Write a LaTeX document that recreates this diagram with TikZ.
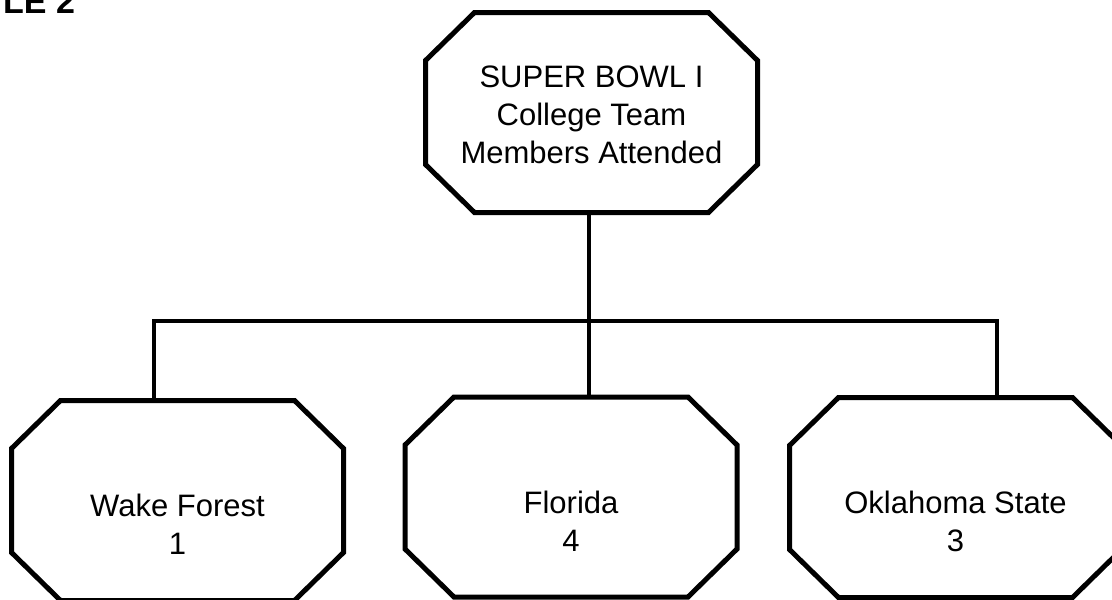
\documentclass[tikz,border=0pt]{standalone}
\usepackage{fontspec}
\setmainfont{Liberation Sans}

\tikzset{
  octbox/.style={draw=none, rectangle, minimum width=332pt, minimum height=200pt,
    inner sep=0pt, outer sep=0pt},
  octline/.style={line width=5pt, line join=miter},
  lbl/.style={draw=none, align=center, anchor=north, inner sep=0pt,
    font=\fontsize{31}{38}\selectfont},
  conn/.style={line width=4.5pt}
}

% octagon outline round a named box
\newcommand{\octoutline}[1]{%
  \draw[octline] ([xshift=49pt]#1.north west) -- ([xshift=-49pt]#1.north east)
    -- ([yshift=-48pt]#1.north east) -- ([yshift=48pt]#1.south east)
    -- ([xshift=-49pt]#1.south east) -- ([xshift=49pt]#1.south west)
    -- ([yshift=48pt]#1.south west) -- ([yshift=-48pt]#1.north west) -- cycle;}

\begin{document}
\begin{tikzpicture}[x=1pt,y=-1pt]
             \useasboundingbox (0,0) rectangle (1112,600);
             \node[draw=none, anchor=base west, inner sep=0pt, font=\fontsize{34}{34}\selectfont\bfseries] (title) at (3, 13) {LE 2};

             \node[octbox] (top) at (591.5, 112.5) {};
             \octoutline{top}
             \node[lbl] (toptext) at (591.5, 66) {SUPER BOWL I\\College Team\\Members Attended};

             \node[octbox] (wake) at (177.5, 500.5) {};
             \octoutline{wake}
             \node[lbl] (waketext) at (177.5, 494) {Wake Forest\\1};

             \node[octbox] (florida) at (571, 497) {};
             \octoutline{florida}
             \node[lbl] (floridatext) at (571, 490.5) {Florida\\4};

             \node[octbox] (okla) at (955.5, 497.5) {};
             \octoutline{okla}
             \node[lbl] (oklatext) at (955.5, 491) {Oklahoma State\\3};

             \coordinate (barL) at (154, 321);
             \coordinate (barM) at (589, 321);
             \coordinate (barR) at (997, 321);

             \draw[conn] (barM |- top.south) -- (barM);
             \draw[conn] (barL |- wake.north) -- (barL) -- (barR) -- (barR |- okla.north);
             \draw[conn] (barM) -- (barM |- florida.north);
\end{tikzpicture}
\end{document}
